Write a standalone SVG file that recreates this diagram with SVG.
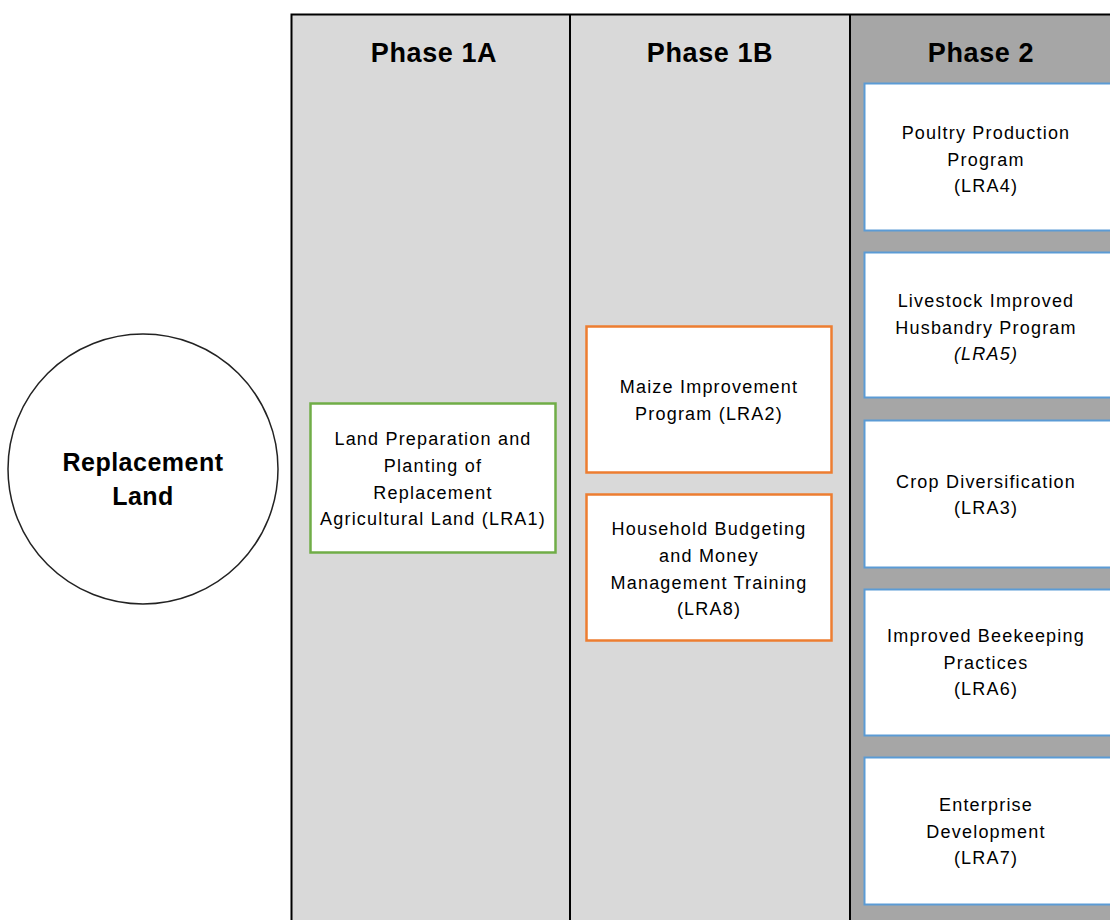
<svg xmlns="http://www.w3.org/2000/svg" width="1110" height="920" viewBox="0 0 1110 920">
<style>
.lane1{fill:#d9d9d9}
.lane2{fill:#a6a6a6}
.div{stroke:#000;stroke-width:2;fill:none}
.hdr{font-family:"Liberation Sans",Arial,sans-serif;font-weight:bold;font-size:27px;letter-spacing:0.6px;fill:#000;text-anchor:middle}
.t{font-family:"Liberation Sans",Arial,sans-serif;font-size:18px;letter-spacing:1.2px;fill:#000;text-anchor:middle}
.green{fill:#fff;stroke:#70ad47;stroke-width:2.5}
.orange{fill:#fff;stroke:#ed7d31;stroke-width:2.5}
.blue{fill:#fff;stroke:#5b9bd5;stroke-width:2}
.circ{fill:#fff;stroke:#222;stroke-width:1.5}
.big{font-family:"Liberation Sans",Arial,sans-serif;font-weight:bold;font-size:25px;letter-spacing:0.5px;fill:#000;text-anchor:middle}
</style>
<rect width="1110" height="920" fill="#fff"/>
<g id="lanes">
<rect class="lane1" x="291" y="14" width="279" height="906"/>
<rect class="lane1" x="570" y="14" width="280" height="906"/>
<rect class="lane2" x="850" y="14" width="260" height="906"/>
<path class="div" d="M291.5 920V14.5H1110M570 14.5V920M850 14.5V920"/>
<text class="hdr" x="434" y="62">Phase 1A</text>
<text class="hdr" x="710" y="62">Phase 1B</text>
<text class="hdr" x="981" y="62">Phase 2</text>
</g>
<g id="connectors"></g>
<g id="replacement-land">
<circle class="circ" cx="143" cy="469" r="135"/>
<text class="big" x="143" y="471">Replacement</text>
<text class="big" x="143" y="505">Land</text>
</g>
<g id="lra1">
<rect class="green" x="310.5" y="403.5" width="245" height="149"/>
<text class="t" x="433" y="445">Land Preparation and</text>
<text class="t" x="433" y="472">Planting of</text>
<text class="t" x="433" y="499">Replacement</text>
<text class="t" x="433" y="525">Agricultural Land (LRA1)</text>
</g>
<g id="lra2">
<rect class="orange" x="586.5" y="326.5" width="245" height="146"/>
<text class="t" x="709" y="393">Maize Improvement</text>
<text class="t" x="709" y="420">Program (LRA2)</text>
</g>
<g id="lra8">
<rect class="orange" x="586.5" y="494.5" width="245" height="146"/>
<text class="t" x="709" y="535">Household Budgeting</text>
<text class="t" x="709" y="562">and Money</text>
<text class="t" x="709" y="589">Management Training</text>
<text class="t" x="709" y="615">(LRA8)</text>
</g>
<g id="lra4">
<rect class="blue" x="864.5" y="83.5" width="250" height="147"/>
<text class="t" x="986" y="139">Poultry Production</text>
<text class="t" x="986" y="166">Program</text>
<text class="t" x="986" y="192">(LRA4)</text>
</g>
<g id="lra5">
<rect class="blue" x="864.5" y="252.5" width="250" height="145"/>
<text class="t" x="986" y="307">Livestock Improved</text>
<text class="t" x="986" y="334">Husbandry Program</text>
<text class="t" x="986" y="360" font-style="italic">(LRA5)</text>
</g>
<g id="lra3">
<rect class="blue" x="864.5" y="420.5" width="250" height="147"/>
<text class="t" x="986" y="488">Crop Diversification</text>
<text class="t" x="986" y="514">(LRA3)</text>
</g>
<g id="lra6">
<rect class="blue" x="864.5" y="589.5" width="250" height="146"/>
<text class="t" x="986" y="642">Improved Beekeeping</text>
<text class="t" x="986" y="669">Practices</text>
<text class="t" x="986" y="695">(LRA6)</text>
</g>
<g id="lra7">
<rect class="blue" x="864.5" y="757.5" width="250" height="147"/>
<text class="t" x="986" y="811">Enterprise</text>
<text class="t" x="986" y="838">Development</text>
<text class="t" x="986" y="864">(LRA7)</text>
</g>
</svg>
